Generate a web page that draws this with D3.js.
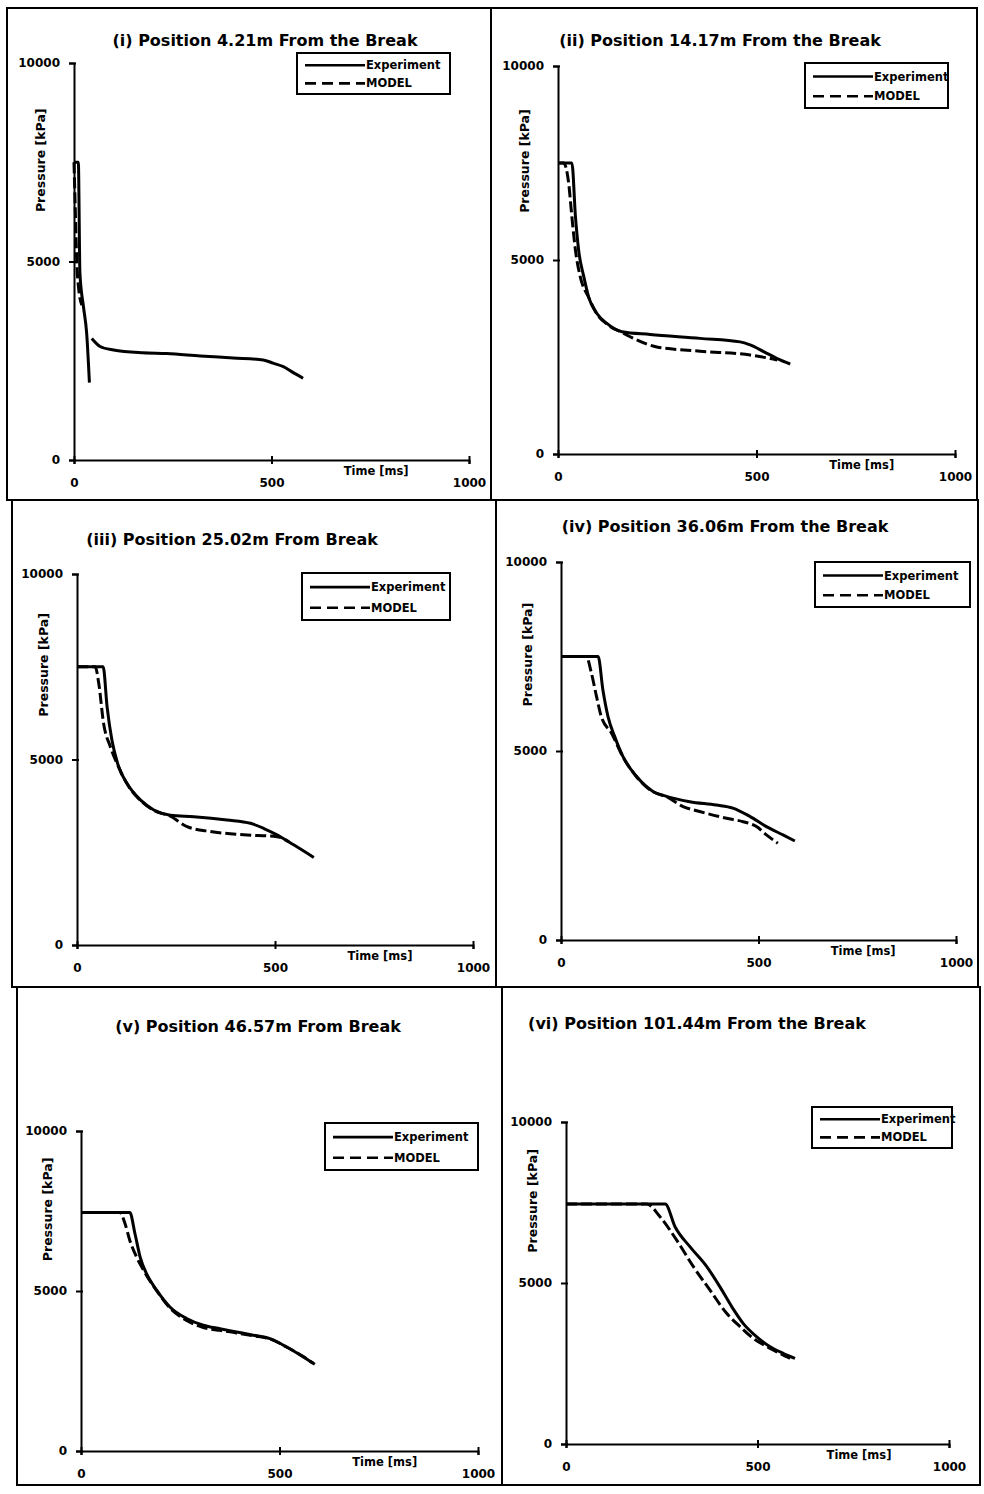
<!DOCTYPE html>
<html>
<head>
<meta charset="UTF-8">
<title>Pressure histories</title>
<script src="https://cdn.jsdelivr.net/npm/d3@7"></script>
<style>
  body { margin: 0; background: #fff; }
  text { font-family: "DejaVu Sans", sans-serif; font-weight: bold; fill: #000; }
</style>
</head>
<body>
<script>
// ---- data: [time ms, pressure kPa] ----
var titles = [
  '(i) Position 4.21m From the Break',
  '(ii) Position 14.17m From the Break',
  '(iii) Position 25.02m From Break',
  '(iv) Position 36.06m From the Break',
  '(v) Position 46.57m From Break',
  '(vi) Position 101.44m From the Break'
]
var timeTicks = [0, 500, 1000]
var pressureTicks = [0, 5000, 10000]
var seriesNames = ['Experiment', 'MODEL']
var xTitle = 'Time [ms]'
var yTitle = 'Pressure [kPa]'

var exp1 = [[0,7500],[11,7500],[15,4700],[24,3860],[32,3200],[39,1950], null,
  [45,3060],[66,2860],[100,2770],[175,2700],[235,2680],[320,2620],[403,2570],[479,2520],[504,2440],[530,2350],[555,2200],[580,2060]]
var mod1 = [[0,7500],[3,6400],[7,5000],[12,4300],[20,3900]]

var exp2 = [[0,7500],[35,7500],[44,6110],[52,5250],[65,4570],[77,4050],[98,3620],[123,3365],[161,3150],
  [232,3080],[358,2980],[459,2890],[484,2810],[518,2640],[552,2460],[585,2320]]
var mod2 = [[0,7500],[14,7500],[27,6970],[35,6110],[44,5250],[56,4570],[77,4040],[98,3610],[123,3350],[161,3130],
  [190,2980],[249,2760],[358,2650],[484,2550],[535,2460],[552,2420]]

var exp3 = [[0,7500],[66,7500],[76,6420],[88,5530],[105,4810],[126,4360],[160,3910],[194,3640],[236,3500],
  [295,3460],[379,3370],[438,3280],[472,3140],[505,2970],[547,2700],[598,2360]]
var mod3 = [[0,7500],[46,7500],[55,7050],[67,5980],[84,5350],[105,4800],[126,4350],[160,3900],[194,3630],
  [236,3470],[278,3190],[337,3060],[421,2970],[505,2920],[535,2780]]

var exp4 = [[0,7500],[94,7500],[106,6620],[119,5910],[136,5380],[157,4850],[191,4330],[233,3930],[267,3800],
  [326,3660],[393,3570],[435,3490],[478,3270],[520,3000],[562,2780],[592,2620]]
var mod4 = [[0,7500],[64,7500],[77,7060],[90,6440],[102,5910],[128,5470],[157,4840],[191,4320],[233,3920],
  [267,3790],[309,3530],[351,3400],[419,3220],[461,3130],[495,3000],[520,2780],[549,2560]]

var exp5 = [[0,7450],[123,7450],[136,6790],[149,6060],[165,5540],[191,5020],[224,4500],[266,4140],[308,3930],
  [350,3820],[392,3720],[434,3620],[476,3510],[518,3250],[560,2940],[589,2710]]
var mod5 = [[0,7450],[98,7450],[111,7100],[123,6580],[140,6060],[153,5750],[191,5000],[224,4470],[266,4080],
  [308,3860],[350,3770],[392,3690],[434,3600],[476,3500],[518,3250],[560,2950],[585,2740]]

var exp6 = [[0,7450],[259,7450],[285,6740],[324,6120],[368,5500],[402,4880],[433,4260],[463,3740],[498,3330],
  [533,3020],[568,2810],[598,2660]]
var mod6 = [[0,7450],[211,7450],[246,7050],[289,6330],[333,5500],[376,4780],[420,4050],[455,3640],[489,3280],
  [533,2970],[585,2660]]

var experiments = [exp1, exp2, exp3, exp4, exp5, exp6]
var models = [mod1, mod2, mod3, mod4, mod5, mod6]

// ---- page layout (pixels) ----
// box: frame x0,y0,x1,y1 ; plot: left,right,top,bottom ; title: cx,baseline ; legend: x,y,w,h
var layout = [
  {box: [7, 8, 491, 500],    plot: [74, 469, 63, 460],    title: [265, 46],   legend: [297, 53, 153, 41]},
  {box: [491, 8, 977, 500],  plot: [558, 955, 66, 454],   title: [720, 46],   legend: [805, 63, 143, 45]},
  {box: [12, 500, 496, 987], plot: [77, 473, 574, 945],   title: [232, 545],  legend: [302, 573, 148, 47]},
  {box: [496, 500, 978, 987], plot: [561, 956, 562, 940], title: [725, 532],  legend: [815, 562, 155, 45]},
  {box: [17, 987, 502, 1485], plot: [81, 478, 1131, 1451], title: [258, 1032], legend: [325, 1123, 153, 47]},
  {box: [502, 987, 980, 1485], plot: [566, 949, 1122, 1444], title: [697, 1029], legend: [812, 1107, 140, 41]}
]

var svg = d3.select('body').append('svg')
  .attr('width', 984)
  .attr('height', 1494)

svg.append('rect').attr('width', 984).attr('height', 1494).attr('fill', '#fff')

layout.forEach(function(L, i){
  var g = svg.append('g')

  // panel frame
  g.append('rect')
    .attr('x', L.box[0]).attr('y', L.box[1])
    .attr('width', L.box[2] - L.box[0]).attr('height', L.box[3] - L.box[1])
    .attr('fill', 'none').attr('stroke', '#000').attr('stroke-width', 2)

  var x = d3.scaleLinear().domain([0, 1000]).range([L.plot[0], L.plot[1]])
  var y = d3.scaleLinear().domain([0, 10000]).range([L.plot[3], L.plot[2]])

  // y axis
  var yAxis = g.append('g')
    .attr('transform', 'translate(' + L.plot[0] + ',0)')
    .call(d3.axisLeft(y).tickValues(pressureTicks).tickFormat(d3.format('d')).tickSize(5).tickPadding(9))
  yAxis.select('.domain').attr('stroke-width', 2)
  yAxis.selectAll('.tick line').attr('stroke-width', 2).attr('x2', 2).attr('x1', -5)
  yAxis.selectAll('text').style('font-size', '12px').style('font-family', '"DejaVu Sans", sans-serif')

  // x axis
  var xAxis = g.append('g')
    .attr('transform', 'translate(0,' + L.plot[3] + ')')
    .call(d3.axisBottom(x).tickValues(timeTicks).tickFormat(d3.format('d')).tickSize(4).tickPadding(14))
  xAxis.select('.domain').attr('stroke-width', 2)
  xAxis.selectAll('.tick line').attr('stroke-width', 2).attr('y1', -4).attr('y2', 4)
  xAxis.selectAll('text').style('font-size', '12px').style('font-family', '"DejaVu Sans", sans-serif')

  // axis titles
  g.append('text')
    .attr('x', x(765)).attr('y', L.plot[3] + 15)
    .attr('text-anchor', 'middle')
    .style('font-size', '11.5px')
    .text(xTitle)

  g.append('text')
    .attr('transform', 'translate(' + (L.plot[0] - 29) + ',' + y(7550) + ') rotate(-90)')
    .attr('text-anchor', 'middle')
    .style('font-size', '12.5px')
    .text(yTitle)

  // chart title
  g.append('text')
    .attr('x', L.title[0]).attr('y', L.title[1])
    .attr('text-anchor', 'middle')
    .style('font-size', '16px')
    .text(titles[i])

  var line = d3.line()
    .defined(function(d){ return d != null })
    .x(function(d){ return x(d[0]) })
    .y(function(d){ return y(d[1]) })
    .curve(d3.curveMonotoneX)

  g.append('path')
    .datum(models[i])
    .attr('d', line)
    .attr('fill', 'none').attr('stroke', '#000').attr('stroke-width', 3)
    .attr('stroke-dasharray', '11,4')

  g.append('path')
    .datum(experiments[i])
    .attr('d', line)
    .attr('fill', 'none').attr('stroke', '#000').attr('stroke-width', 3)

  // legend
  var lg = g.append('g').attr('transform', 'translate(' + L.legend[0] + ',' + L.legend[1] + ')')
  lg.append('rect')
    .attr('width', L.legend[2]).attr('height', L.legend[3])
    .attr('fill', '#fff').attr('stroke', '#000').attr('stroke-width', 2)
  seriesNames.forEach(function(name, k){
    var ry = L.legend[3] * (k == 0 ? 0.3 : 0.74)
    lg.append('line')
      .attr('x1', 8).attr('x2', 68).attr('y1', ry).attr('y2', ry)
      .attr('stroke', '#000').attr('stroke-width', 2.6)
      .attr('stroke-dasharray', k == 0 ? null : '11,6')
    lg.append('text')
      .attr('x', 69).attr('y', ry + 4)
      .style('font-size', '11.5px')
      .text(name)
  })
})
</script>
</body>
</html>
